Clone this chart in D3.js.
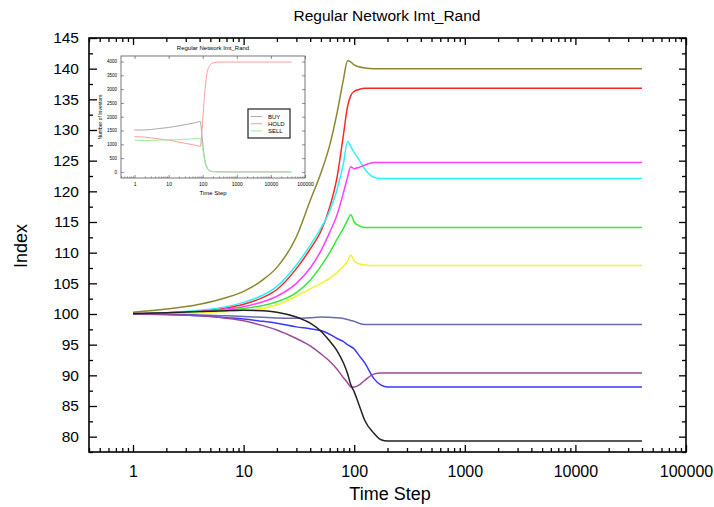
<!DOCTYPE html>
<html>
<head>
<meta charset="utf-8">
<script src="https://cdn.jsdelivr.net/npm/d3@7"></script>
<style>
  body { margin: 0; background: #fff; }
  svg { font-family: "Liberation Sans", Arial, sans-serif; }
  .axis path { display: none; }
  .axis line { stroke: #000; stroke-width: 1.3; }
  .axis text { fill: #000; }
  .inset .axis line { stroke: #444; stroke-width: 0.6; }
</style>
</head>
<body>
<svg class="chart"></svg>
<script>
// time steps shared by every index series
var steps = [1, 2, 4, 7, 10, 15, 20, 30, 40, 50, 60, 70, 80, 87, 93, 100, 110, 125, 150, 175, 200, 40000];

var olive   = [100.3, 100.8, 101.6, 102.7, 103.7, 105.6, 107.6, 112.6, 118.5, 123.0, 127.5, 132.8, 138.3, 141.3, 141.1, 140.6, 140.3, 140.1, 140.0, 140.0, 140.0, 140.0];
var red     = [100.0, 100.2, 100.5, 101.0, 101.6, 102.7, 104.0, 107.4, 110.6, 113.5, 117.4, 122.3, 129.3, 133.8, 135.6, 136.3, 136.6, 136.8, 136.8, 136.8, 136.8, 136.8];
var cyan    = [100.0, 100.2, 100.6, 101.2, 101.9, 103.1, 104.5, 108.0, 111.2, 114.0, 116.8, 120.3, 124.6, 128.1, 127.3, 126.3, 125.2, 123.6, 122.3, 122.1, 122.1, 122.1];
var magenta = [100.0, 100.1, 100.4, 100.8, 101.2, 102.0, 102.9, 105.0, 107.5, 110.3, 113.3, 116.2, 119.8, 122.3, 124.0, 123.7, 123.9, 124.3, 124.7, 124.7, 124.7, 124.7];
var green   = [100.0, 100.1, 100.3, 100.6, 100.9, 101.4, 102.0, 103.5, 105.5, 107.8, 110.0, 112.2, 114.0, 115.3, 116.2, 115.0, 114.4, 114.1, 114.1, 114.1, 114.1, 114.1];
var yellow  = [100.0, 100.05, 100.2, 100.4, 100.6, 100.9, 101.5, 102.9, 104.1, 105.0, 105.8, 106.8, 107.8, 108.6, 109.6, 108.6, 108.2, 108.0, 107.9, 107.9, 107.9, 107.9];
var slate   = [100.0, 99.95, 99.85, 99.7, 99.6, 99.45, 99.35, 99.3, 99.4, 99.5, 99.45, 99.4, 99.25, 99.1, 98.95, 98.8, 98.5, 98.3, 98.3, 98.3, 98.3, 98.3];
var blue    = [100.0, 99.9, 99.7, 99.4, 99.2, 98.8, 98.5, 97.9, 97.6, 97.3, 96.7, 96.0, 95.5, 95.0, 94.7, 94.3, 93.3, 92.0, 89.5, 88.4, 88.1, 88.1];
var purple  = [100.0, 99.9, 99.7, 99.3, 98.9, 98.1, 97.4, 96.0, 94.8, 93.5, 92.3, 91.0, 89.6, 88.8, 88.1, 88.1, 88.4, 89.2, 90.2, 90.4, 90.4, 90.4];
var black   = [100.1, 100.2, 100.4, 100.55, 100.6, 100.55, 100.3, 99.5, 98.5, 97.2, 95.6, 94.0, 92.0, 90.3, 88.5, 87.3, 85.3, 82.6, 80.6, 79.5, 79.3, 79.3];

var xTicks = [1, 10, 100, 1000, 10000, 100000];
var yTicks = [80, 85, 90, 95, 100, 105, 110, 115, 120, 125, 130, 135, 140, 145];

// inset: number of investors
var insetSteps = [1, 2, 5, 10, 20, 40, 70, 85, 95, 110, 130, 160, 200, 300, 40000];
var buy  = [1520, 1520, 1570, 1610, 1670, 1740, 1800, 1830, 1300, 600, 200, 50, 10, 0, 0];
var hold = [1280, 1260, 1200, 1150, 1080, 1010, 950, 920, 1500, 2600, 3500, 3850, 3950, 3980, 3980];
var sell = [1150, 1140, 1150, 1160, 1170, 1190, 1210, 1220, 1000, 500, 150, 40, 10, 5, 5];
var insetNames = ["BUY", "HOLD", "SELL"];
var insetYTicks = [0, 500, 1000, 1500, 2000, 2500, 3000, 3500, 4000];

var series = [olive, red, cyan, magenta, green, yellow, slate, blue, purple, black];
var colors = ["#8b882e", "#ff2626", "#2cf4f4", "#ff40ff", "#38e838", "#f4f22a", "#6a6ab2", "#3a3aff", "#9a4a9a", "#222222"];
var insetColors = ["#a8a8a8", "#ff9c9c", "#9cec9c"];

var margin = {top: 38, right: 28, bottom: 55, left: 89},
    width = 714 - margin.left - margin.right,
    height = 507 - margin.top - margin.bottom;

var svg = d3.select(".chart")
    .attr("width", 714)
    .attr("height", 507);

var chart = svg.append("g")
    .attr("transform", "translate(" + margin.left + "," + margin.top + ")");

var x = d3.scaleLog().domain([0.4, 100000]).range([0, width]);
var y = d3.scaleLinear().domain([77.5, 145]).range([height, 0]);

function minorLog(domain) {
  var out = [];
  for (var e = -1; e <= 5; e++) {
    for (var m = 2; m <= 9; m++) {
      var v = m * Math.pow(10, e);
      if (v >= domain[0] && v <= domain[1]) out.push(v);
    }
  }
  return out;
}
var yMinor = yTicks.map(function(d) { return d - 2.5; });

// bottom
chart.append("g")
    .attr("class", "axis")
    .attr("transform", "translate(0," + height + ")")
    .call(d3.axisBottom(x).tickValues(xTicks).tickFormat(d3.format("d")).tickSize(-7).tickPadding(14))
    .selectAll("text").style("font-size", "16px");
chart.append("g")
    .attr("class", "axis")
    .attr("transform", "translate(0," + height + ")")
    .call(d3.axisBottom(x).tickValues(minorLog(x.domain())).tickFormat("").tickSize(-4));
// top
chart.append("g")
    .attr("class", "axis")
    .call(d3.axisTop(x).tickValues(xTicks).tickFormat("").tickSize(-7));
chart.append("g")
    .attr("class", "axis")
    .call(d3.axisTop(x).tickValues(minorLog(x.domain())).tickFormat("").tickSize(-4));
// left
chart.append("g")
    .attr("class", "axis")
    .call(d3.axisLeft(y).tickValues(yTicks).tickSize(-8).tickPadding(10))
    .selectAll("text").style("font-size", "15.5px");
chart.append("g")
    .attr("class", "axis")
    .call(d3.axisLeft(y).tickValues(yMinor).tickFormat("").tickSize(-4));
// right
chart.append("g")
    .attr("class", "axis")
    .attr("transform", "translate(" + width + ",0)")
    .call(d3.axisRight(y).tickValues(yTicks).tickFormat("").tickSize(-7));
chart.append("g")
    .attr("class", "axis")
    .attr("transform", "translate(" + width + ",0)")
    .call(d3.axisRight(y).tickValues(yMinor).tickFormat("").tickSize(-4));

chart.append("rect")
    .attr("width", width)
    .attr("height", height)
    .attr("fill", "none")
    .attr("stroke", "#000")
    .attr("stroke-width", 1.6);

var line = d3.line()
    .x(function(d, i) { return x(steps[i]); })
    .y(function(d) { return y(d); })
    .curve(d3.curveMonotoneX);

chart.selectAll(".series")
    .data(series)
  .enter().append("path")
    .attr("class", "series")
    .attr("fill", "none")
    .attr("stroke", function(d, i) { return colors[i]; })
    .attr("stroke-width", 1.5)
    .attr("d", line);

// titles
svg.append("text")
    .attr("x", 387)
    .attr("y", 21)
    .attr("text-anchor", "middle")
    .style("font-size", "15.5px")
    .text("Regular Network Imt_Rand");

svg.append("text")
    .attr("x", 390)
    .attr("y", 500)
    .attr("text-anchor", "middle")
    .style("font-size", "18px")
    .text("Time Step");

svg.append("text")
    .attr("transform", "translate(27,246) rotate(-90)")
    .attr("text-anchor", "middle")
    .style("font-size", "18px")
    .text("Index");

// ---- inset ----
var ins = {left: 121, top: 56, width: 184, height: 122};
var inset = svg.append("g")
    .attr("class", "inset")
    .attr("transform", "translate(" + ins.left + "," + ins.top + ")");

var xi = d3.scaleLog().domain([0.4, 100000]).range([0, ins.width]);
var yi = d3.scaleLinear().domain([-220, 4200]).range([ins.height, 0]);

inset.append("rect")
    .attr("width", ins.width)
    .attr("height", ins.height)
    .attr("fill", "#fff");

inset.append("g")
    .attr("class", "axis")
    .attr("transform", "translate(0," + ins.height + ")")
    .call(d3.axisBottom(xi).tickValues(xTicks).tickFormat(d3.format("d")).tickSize(-3).tickPadding(4))
    .selectAll("text").style("font-size", "5px");
inset.append("g")
    .attr("class", "axis")
    .attr("transform", "translate(0," + ins.height + ")")
    .call(d3.axisBottom(xi).tickValues(minorLog(xi.domain())).tickFormat("").tickSize(-1.5));
inset.append("g")
    .attr("class", "axis")
    .call(d3.axisLeft(yi).tickValues(insetYTicks).tickFormat(d3.format("d")).tickSize(-3).tickPadding(4))
    .selectAll("text").style("font-size", "4.5px");
inset.append("g")
    .attr("class", "axis")
    .attr("transform", "translate(" + ins.width + ",0)")
    .call(d3.axisRight(yi).tickValues(insetYTicks).tickFormat("").tickSize(-3));
inset.append("g")
    .attr("class", "axis")
    .call(d3.axisTop(xi).tickValues(xTicks).tickFormat("").tickSize(-3));

var insetLine = d3.line()
    .x(function(d, i) { return xi(insetSteps[i]); })
    .y(function(d) { return yi(d); })
    .curve(d3.curveMonotoneX);

inset.selectAll(".iseries")
    .data([buy, hold, sell])
  .enter().append("path")
    .attr("class", "iseries")
    .attr("fill", "none")
    .attr("stroke", function(d, i) { return insetColors[i]; })
    .attr("stroke-width", 1)
    .attr("d", insetLine);

inset.append("rect")
    .attr("width", ins.width)
    .attr("height", ins.height)
    .attr("fill", "none")
    .attr("stroke", "#555")
    .attr("stroke-width", 0.8);

inset.append("text")
    .attr("x", ins.width / 2)
    .attr("y", -6)
    .attr("text-anchor", "middle")
    .style("font-size", "6px")
    .text("Regular Network Imt_Rand");

inset.append("text")
    .attr("x", ins.width / 2)
    .attr("y", ins.height + 17)
    .attr("text-anchor", "middle")
    .style("font-size", "6px")
    .text("Time Step");

inset.append("text")
    .attr("transform", "translate(-19," + (ins.height / 2) + ") rotate(-90)")
    .attr("text-anchor", "middle")
    .style("font-size", "5px")
    .text("Number of Investors");

var legend = inset.append("g")
    .attr("transform", "translate(127,53)");
legend.append("rect")
    .attr("width", 42)
    .attr("height", 29)
    .attr("fill", "#fff")
    .attr("stroke", "#222")
    .attr("stroke-width", 1.2);
var item = legend.selectAll(".item")
    .data(insetNames)
  .enter().append("g")
    .attr("class", "item")
    .attr("transform", function(d, i) { return "translate(0," + (7.5 + i * 7.2) + ")"; });
item.append("line")
    .attr("x1", 3).attr("x2", 14)
    .attr("stroke", function(d, i) { return insetColors[i]; })
    .attr("stroke-width", 1);
item.append("text")
    .attr("x", 20)
    .attr("dy", "0.35em")
    .style("font-size", "6px")
    .text(function(d) { return d; });
</script>
</body>
</html>
